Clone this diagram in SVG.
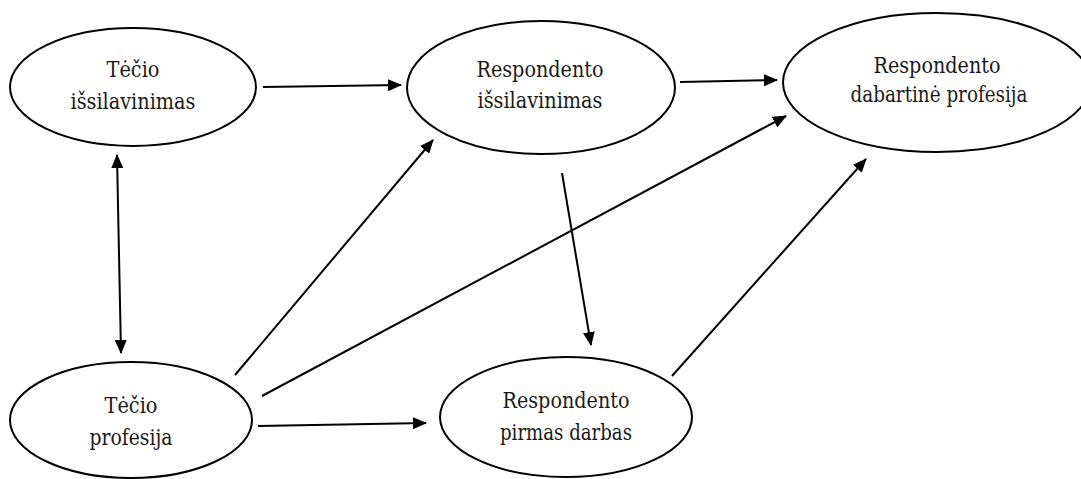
<svg xmlns="http://www.w3.org/2000/svg" width="1081" height="479" viewBox="0 0 1081 479">
<style>
.node ellipse{fill:#fff;stroke:#000;stroke-width:2}
.node text{font-family:'DejaVu Serif','Noto Serif',serif;font-size:22px;fill:#1a1a1a;text-anchor:middle}
.edges line{stroke:#000;stroke-width:2;marker-end:url(#ah)}
</style>
<defs>
<marker id="ah" markerUnits="userSpaceOnUse" markerWidth="14" markerHeight="12" refX="13" refY="6" orient="auto-start-reverse">
<path d="M0,0 L14,6 L0,12 z" fill="#000"/>
</marker>
</defs>
<rect width="1081" height="479" fill="#fff"/>
<g id="n-tecio-issilavinimas" class="node">
<ellipse cx="133" cy="87" rx="123" ry="59"/>
<text x="133" y="77" textLength="53" lengthAdjust="spacingAndGlyphs">Tėčio</text>
<text x="133" y="109" textLength="125" lengthAdjust="spacingAndGlyphs">išsilavinimas</text>
</g>
<g id="n-resp-issilavinimas" class="node">
<ellipse cx="541" cy="87.5" rx="134" ry="66.5"/>
<text x="540" y="77" textLength="127" lengthAdjust="spacingAndGlyphs">Respondento</text>
<text x="540" y="108" textLength="125" lengthAdjust="spacingAndGlyphs">išsilavinimas</text>
</g>
<g id="n-resp-dabartine" class="node">
<ellipse cx="937" cy="82.5" rx="154" ry="69.5"/>
<text x="937" y="73" textLength="127" lengthAdjust="spacingAndGlyphs">Respondento</text>
<text x="939" y="102" textLength="177" lengthAdjust="spacingAndGlyphs">dabartinė profesija</text>
</g>
<g id="n-tecio-profesija" class="node">
<ellipse cx="131" cy="420" rx="121" ry="58"/>
<text x="131" y="413" textLength="53" lengthAdjust="spacingAndGlyphs">Tėčio</text>
<text x="131" y="445" textLength="83" lengthAdjust="spacingAndGlyphs">profesija</text>
</g>
<g id="n-resp-pirmas" class="node">
<ellipse cx="566" cy="417" rx="126" ry="60"/>
<text x="566" y="408" textLength="127" lengthAdjust="spacingAndGlyphs">Respondento</text>
<text x="566" y="440" textLength="132" lengthAdjust="spacingAndGlyphs">pirmas darbas</text>
</g>
<g id="edges" class="edges">
<line x1="263" y1="87" x2="401" y2="85"/>
<line x1="680" y1="82" x2="777" y2="80"/>
<line x1="117" y1="155" x2="121" y2="353" style="marker-start:url(#ah)"/>
<line x1="235" y1="375" x2="433" y2="140"/>
<line x1="262" y1="396" x2="786" y2="116"/>
<line x1="258" y1="426" x2="426" y2="423"/>
<line x1="562" y1="173" x2="591" y2="345"/>
<line x1="672" y1="376" x2="866" y2="159"/>
</g>
</svg>
